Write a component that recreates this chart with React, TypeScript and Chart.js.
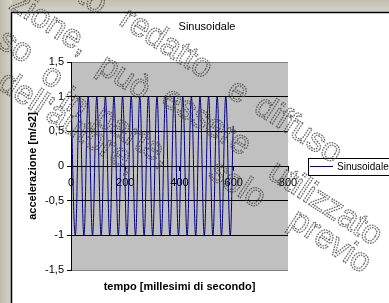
import React, { useEffect, useRef } from 'react';
import { Chart, registerables } from 'chart.js';

Chart.register(...registerables);

// ---- data ----
const chartTitle = 'Sinusoidale';
const seriesName = 'Sinusoidale';
const xTitle = 'tempo [millesimi di secondo]';
const yTitle = 'accelerazione [m/s2]';

// peaks / troughs of the sampled sinusoid (ms) and the last sample
const timeMs = [
  0, 15.9, 31.7, 47.6, 63.4, 79.3, 95.1, 111.0, 126.8, 142.7,
  158.5, 174.4, 190.2, 206.1, 221.9, 237.8, 253.6, 269.5, 285.3, 301.2,
  317.0, 332.9, 348.7, 364.6, 380.4, 396.3, 412.1, 428.0, 443.8, 459.7,
  475.5, 491.4, 507.2, 523.1, 538.9, 554.8, 570.6, 586.5, 598,
];
const accel = [
  1, -1, 1, -1, 1, -1, 1, -1, 1, -1,
  1, -1, 1, -1, 1, -1, 1, -1, 1, -1,
  1, -1, 1, -1, 1, -1, 1, -1, 1, -1,
  1, -1, 1, -1, 1, -1, 1, -1, 0.58,
];

const xTicks = [0, 200, 400, 600, 800];
const yTicks = [-1.5, -1, -0.5, 0, 0.5, 1, 1.5];

// watermark words (outlined, rotated text over the picture)
const watermarkWords = [
  'to', 'redatto', 'e', 'diffuso',
  'zione,', 'può', 'essere', 'utilizzato',
  'so', 'o', 'in', 'parte,', 'solo', 'previo',
  "dell'autore,",
];
const watermarkCenters: [number, number][] = [
  [92, 0], [166, 44], [238, 92], [298, 130],
  [50, 24], [124, 78], [206, 122], [325, 204],
  [15, 47], [52, 77], [74, 104], [133, 137], [237, 185], [330, 242],
  [68, 123],
];

const FONT = '"Liberation Sans", Arial, sans-serif';

export default function App() {
  const canvasRef = useRef<HTMLCanvasElement | null>(null);

  useEffect(() => {
    const canvas = canvasRef.current;
    if (!canvas) return;

    const decor = {
      id: 'decor',
      beforeDraw(chart: any) {
        const { ctx, chartArea: a } = chart;
        ctx.save();
        const g = ctx.createLinearGradient(0, 0, 12, 0);
        g.addColorStop(0, '#bdbbac');
        g.addColorStop(1, '#d6d4c7');
        ctx.fillStyle = g;
        ctx.fillRect(0, 0, 389, 303);
        const g2 = ctx.createLinearGradient(0, 0, 0, 12);
        g2.addColorStop(0, '#c2c0b1');
        g2.addColorStop(1, '#d4d2c5');
        ctx.fillStyle = g2;
        ctx.fillRect(12, 0, 389, 12);
        ctx.fillStyle = '#ffffff';
        ctx.fillRect(11, 12, 400, 300);
        ctx.strokeStyle = '#000';
        ctx.lineWidth = 1.5;
        ctx.beginPath();
        ctx.moveTo(11.5, 310);
        ctx.lineTo(11.5, 12.5);
        ctx.lineTo(400, 12.5);
        ctx.stroke();
        ctx.fillStyle = '#c0c0c0';
        ctx.fillRect(a.left, a.top, a.right - a.left, a.bottom - a.top);
        ctx.restore();
      },
      afterDraw(chart: any) {
        const { ctx, chartArea: a } = chart;
        ctx.save();
        ctx.fillStyle = '#000';
        ctx.font = `11px ${FONT}`;
        ctx.textAlign = 'center';
        ctx.textBaseline = 'middle';
        ctx.fillText(chartTitle, 207, 27);
        ctx.font = `bold 11px ${FONT}`;
        ctx.fillText(xTitle, (a.left + a.right) / 2, 287);
        ctx.save();
        ctx.translate(33, (a.top + a.bottom) / 2);
        ctx.rotate(-Math.PI / 2);
        ctx.fillText(yTitle, 0, 0);
        ctx.restore();
        // legend
        ctx.fillStyle = '#ffffff';
        ctx.fillRect(308, 158, 100, 17);
        ctx.strokeStyle = '#000';
        ctx.lineWidth = 1;
        ctx.strokeRect(308.5, 158.5, 100, 17);
        ctx.strokeStyle = '#000080';
        ctx.beginPath();
        ctx.moveTo(310, 166.5);
        ctx.lineTo(333, 166.5);
        ctx.stroke();
        ctx.fillStyle = '#000';
        ctx.font = `10px ${FONT}`;
        ctx.textAlign = 'left';
        ctx.fillText(seriesName, 337, 167);
        // watermark
        ctx.font = `33px ${FONT}`;
        ctx.textAlign = 'center';
        ctx.textBaseline = 'middle';
        ctx.strokeStyle = 'rgba(70,70,70,0.8)';
        ctx.lineWidth = 1.3;
        ctx.setLineDash([1.6, 1]);
        watermarkWords.forEach((w, i) => {
          const [cx, cy] = watermarkCenters[i];
          ctx.save();
          ctx.translate(cx, cy);
          ctx.rotate((33 * Math.PI) / 180);
          ctx.strokeText(w, 0, 0);
          ctx.restore();
        });
        ctx.restore();
      },
    };

    const chart = new Chart(canvas, {
      type: 'line',
      data: {
        datasets: [
          {
            label: seriesName,
            data: timeMs.map((t, i) => ({ x: t, y: accel[i] })),
            borderColor: '#000080',
            borderWidth: 1,
            pointRadius: 0,
            tension: 0.4,
            fill: false,
          },
        ],
      },
      options: {
        animation: false,
        responsive: false,
        devicePixelRatio: 1,
        layout: { padding: { left: 0, top: 62, right: 101, bottom: 33 } },
        plugins: {
          legend: { display: false },
          title: { display: false },
          tooltip: { enabled: false },
        },
        scales: {
          x: {
            type: 'linear',
            min: 0,
            max: 800,
            position: { y: 0 } as any,
            afterBuildTicks: (s: any) => {
              s.ticks = xTicks.map((v) => ({ value: v }));
            },
            ticks: {
              font: { family: FONT, size: 11 },
              color: '#000',
              padding: 6,
              maxRotation: 0,
              autoSkip: false,
            },
            grid: {
              drawOnChartArea: false,
              drawTicks: true,
              tickLength: 4,
              tickColor: '#000',
            },
            border: { display: true, color: '#000', width: 1 },
          },
          y: {
            type: 'linear',
            min: -1.5,
            max: 1.5,
            position: 'left',
            afterBuildTicks: (s: any) => {
              s.ticks = yTicks.map((v) => ({ value: v }));
            },
            afterFit: (s: any) => {
              s.width = 71;
            },
            ticks: {
              font: { family: FONT, size: 11 },
              color: '#000',
              padding: 3,
              callback: (v: any) => String(v).replace('.', ','),
            },
            grid: {
              color: (c: any) =>
                Math.abs(c.tick?.value) === 1.5 ? '#808080' : '#000',
              tickColor: '#000',
              tickLength: 4,
              lineWidth: 1,
            },
            border: { display: true, color: '#000', width: 1 },
          },
        },
      },
      plugins: [decor],
    });

    return () => chart.destroy();
  }, []);

  return (
    <div style={{ position: 'fixed', left: 0, top: 0, width: 389, height: 303 }}>
      <canvas ref={canvasRef} width={389} height={303} style={{ display: 'block' }} />
    </div>
  );
}
